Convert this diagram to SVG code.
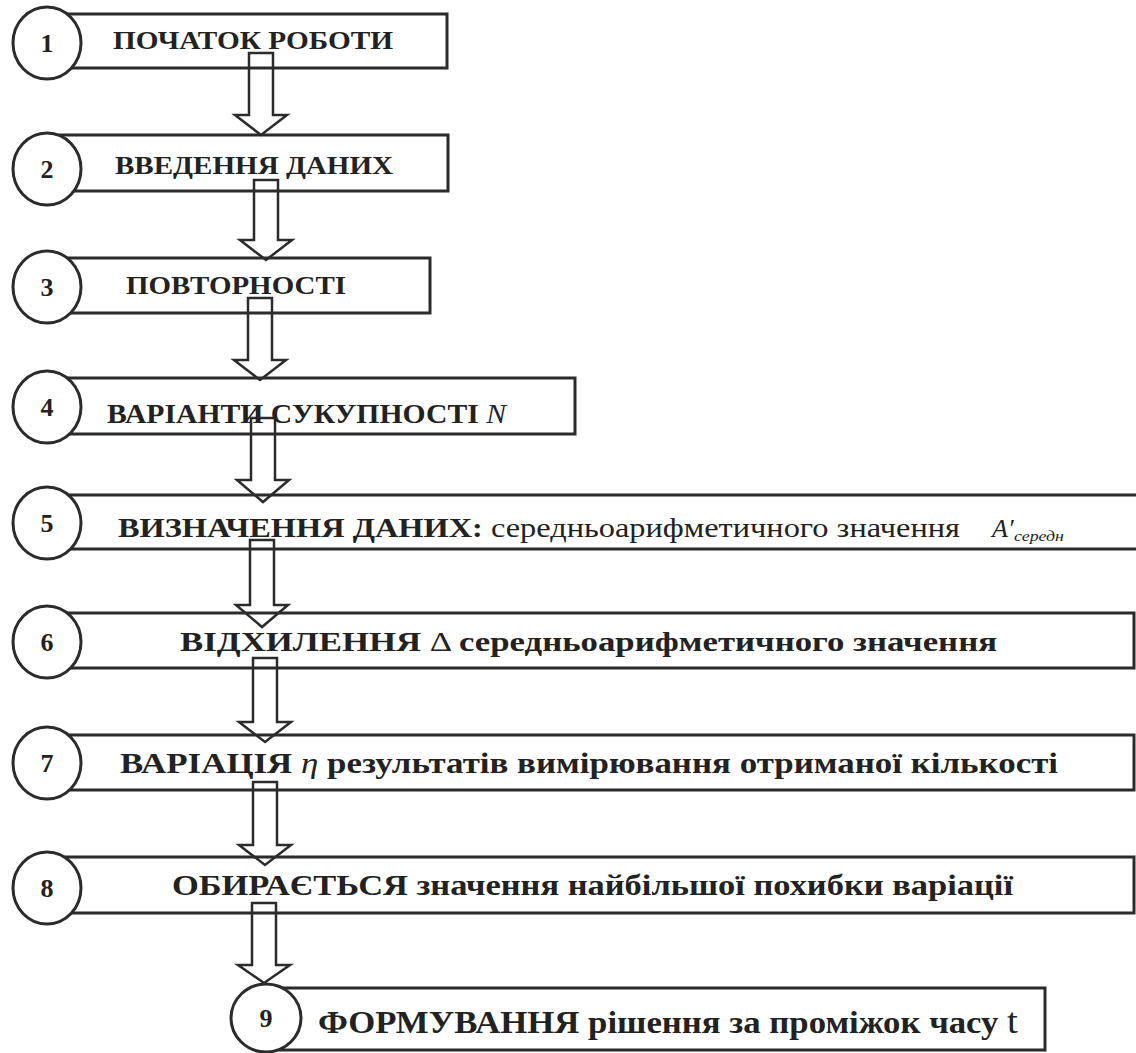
<svg xmlns="http://www.w3.org/2000/svg" width="1136" height="1053" viewBox="0 0 1136 1053">
<style>
.box{fill:none;stroke:#2b2b2b;stroke-width:3}
.circ{fill:#fff;stroke:#2b2b2b;stroke-width:3}
.arr{fill:#fff;stroke:#2b2b2b;stroke-width:2.5;stroke-linejoin:miter}
.num{font-family:"Liberation Serif",serif;font-weight:bold;font-size:26px;fill:#222;text-anchor:middle}
.t{font-family:"Liberation Serif",serif;font-weight:bold;fill:#222}
.r{font-weight:normal}
.i{font-style:italic;font-weight:normal}
</style>
<rect width="1136" height="1053" fill="#fff"/>
<g id="connectors">
<polygon class="arr" points="249,53 273,53 273,115 287,115 261,135 235,115 249,115"/>
<polygon class="arr" points="254,180 278,180 278,240 292,240 266,260 240,240 254,240"/>
<polygon class="arr" points="248,298 272,298 272,360 286,360 260,380 234,360 248,360"/>
<polygon class="arr" points="251,418 275,418 275,480 289,480 263,502 237,480 251,480"/>
<polygon class="arr" points="250,540 274,540 274,605 288,605 262,627 236,605 250,605"/>
<polygon class="arr" points="253,658 277,658 277,722 291,722 265,742 239,722 253,722"/>
<polygon class="arr" points="253,782 277,782 277,845 291,845 265,865 239,845 253,845"/>
<polygon class="arr" points="252,903 276,903 276,965 290,965 264,983 238,965 252,965"/>
</g>
<g id="node1">
<rect class="box" x="60" y="14" width="387" height="54"/>
<ellipse class="circ" cx="47" cy="43" rx="34" ry="36"/>
<text class="num" x="47" y="52">1</text>
<text class="t" x="113" y="49" font-size="26" textLength="280" lengthAdjust="spacingAndGlyphs">ПОЧАТОК РОБОТИ</text>
</g>
<g id="node2">
<rect class="box" x="60" y="135" width="388" height="56"/>
<ellipse class="circ" cx="47" cy="169" rx="34" ry="36"/>
<text class="num" x="47" y="178">2</text>
<text class="t" x="115" y="174" font-size="26" textLength="278" lengthAdjust="spacingAndGlyphs">ВВЕДЕННЯ ДАНИХ</text>
</g>
<g id="node3">
<rect class="box" x="60" y="258" width="370" height="55"/>
<ellipse class="circ" cx="47" cy="287" rx="34" ry="36"/>
<text class="num" x="47" y="296">3</text>
<text class="t" x="126" y="294" font-size="26" textLength="220" lengthAdjust="spacingAndGlyphs">ПОВТОРНОСТІ</text>
</g>
<g id="node4">
<rect class="box" x="60" y="378" width="515" height="56"/>
<ellipse class="circ" cx="47" cy="407" rx="34" ry="36"/>
<text class="num" x="47" y="416">4</text>
<text class="t" x="107" y="423" font-size="28" textLength="399" lengthAdjust="spacingAndGlyphs">ВАРІАНТИ СУКУПНОСТІ <tspan class="i">N</tspan></text>
</g>
<g id="node5">
<rect class="box" x="60" y="495" width="1090" height="54"/>
<ellipse class="circ" cx="47" cy="523" rx="34" ry="36"/>
<text class="num" x="47" y="532">5</text>
<text class="t" x="118" y="537" font-size="28" textLength="842" lengthAdjust="spacingAndGlyphs">ВИЗНАЧЕННЯ ДАНИХ:<tspan class="r"> середньоарифметичного значення</tspan></text>
<text class="t i" x="992" y="537" font-size="26">A′</text>
<text class="t i" x="1014" y="541" font-size="14" textLength="50" lengthAdjust="spacingAndGlyphs">середн</text>
</g>
<g id="node6">
<rect class="box" x="60" y="613" width="1074" height="55"/>
<ellipse class="circ" cx="47" cy="642" rx="34" ry="36"/>
<text class="num" x="47" y="651">6</text>
<text class="t" x="180" y="651" font-size="28" textLength="817" lengthAdjust="spacingAndGlyphs">ВІДХИЛЕННЯ<tspan class="r"> Δ </tspan>середньоарифметичного значення</text>
</g>
<g id="node7">
<rect class="box" x="60" y="735" width="1074" height="55"/>
<ellipse class="circ" cx="47" cy="763" rx="34" ry="36"/>
<text class="num" x="47" y="772">7</text>
<text class="t" x="120" y="773" font-size="30" textLength="938" lengthAdjust="spacingAndGlyphs">ВАРІАЦІЯ<tspan class="i"> η </tspan>результатів вимірювання отриманої кількості</text>
</g>
<g id="node8">
<rect class="box" x="60" y="857" width="1074" height="56"/>
<ellipse class="circ" cx="47" cy="888" rx="34" ry="36"/>
<text class="num" x="47" y="897">8</text>
<text class="t" x="172" y="895" font-size="30" textLength="841" lengthAdjust="spacingAndGlyphs">ОБИРАЄТЬСЯ значення найбільшої похибки варіації</text>
</g>
<g id="node9">
<rect class="box" x="280" y="988" width="765" height="62"/>
<ellipse class="circ" cx="266" cy="1018" rx="35" ry="34"/>
<text class="num" x="266" y="1027">9</text>
<text class="t" x="318" y="1033" font-size="32" textLength="700" lengthAdjust="spacingAndGlyphs">ФОРМУВАННЯ  рішення за проміжок часу <tspan class="r" font-size="36">t</tspan></text>
</g>
</svg>
